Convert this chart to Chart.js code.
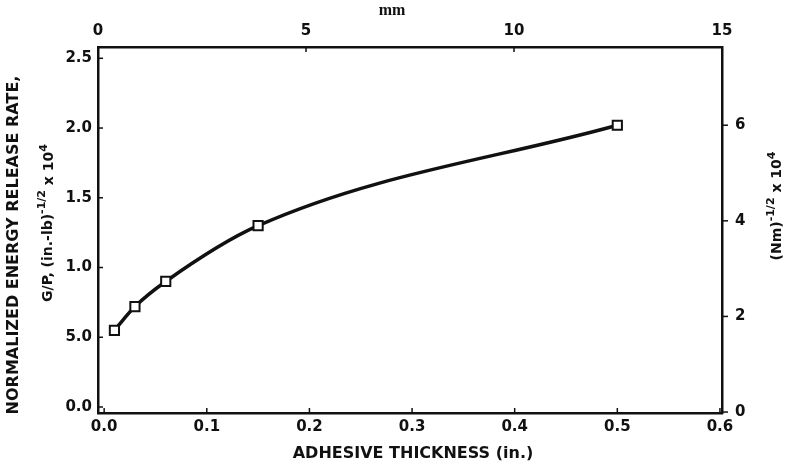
<!DOCTYPE html>
<html><head><meta charset="utf-8">
<script src="https://cdn.jsdelivr.net/npm/chart.js@4.4.1/dist/chart.umd.min.js"></script>
<style>html,body{margin:0;padding:0;background:#fff;} #wrap{width:785px;height:475px;position:relative;}</style>
</head><body><div id="wrap"><canvas id="c" width="785" height="475"></canvas></div>
<script>
// ---- data ----
const thicknessIn = [0.01, 0.03, 0.06, 0.15, 0.50];
const energyRate  = [0.55, 0.72, 0.90, 1.30, 2.02];

const bottomTicks = [0.0, 0.1, 0.2, 0.3, 0.4, 0.5, 0.6];
const bottomTickLabels = ['0.0', '0.1', '0.2', '0.3', '0.4', '0.5', '0.6'];
const topTicks = [0, 5, 10, 15];
const topTickLabels = ['0', '5', '10', '15'];
const leftTicks = [0.0, 0.5, 1.0, 1.5, 2.0, 2.5];
const leftTickLabels = ['0.0', '5.0', '1.0', '1.5', '2.0', '2.5'];
const rightTicks = [0, 2, 4, 6];
const rightTickLabels = ['0', '2', '4', '6'];

const INK = '#111';
const tickFont = {family: 'DejaVu Sans', size: 15, weight: 'bold'};

function fixed(ticks) { return s => { s.ticks = ticks.map(v => ({value: v})); }; }

function drawRich(ctx, segs, cx, cy, rot) {
  ctx.save();
  ctx.translate(cx, cy);
  ctx.rotate(rot);
  ctx.textAlign = 'left';
  ctx.textBaseline = 'alphabetic';
  let total = 0;
  segs.forEach(s => { ctx.font = s.font; s.w = ctx.measureText(s.t).width; total += s.w; });
  let xx = -total / 2;
  segs.forEach(s => { ctx.font = s.font; ctx.fillText(s.t, xx, s.dy || 0); xx += s.w; });
  ctx.restore();
}

const decor = {
  id: 'decor',
  afterDraw(chart) {
    const ctx = chart.ctx;
    const a = chart.chartArea;
    const {x, x2, y, y2} = chart.scales;
    ctx.save();
    ctx.strokeStyle = INK;
    ctx.lineWidth = 1.5;
    const seg = (x1, y1, xb, yb) => { ctx.beginPath(); ctx.moveTo(x1, y1); ctx.lineTo(xb, yb); ctx.stroke(); };
    bottomTicks.forEach(v => { const p = x.getPixelForValue(v); seg(p, a.bottom, p, a.bottom - 5); });
    topTicks.forEach(v => { const p = x2.getPixelForValue(v); seg(p, a.top, p, a.top + 5); });
    leftTicks.forEach(v => { const p = y.getPixelForValue(v); seg(a.left, p, a.left + 5, p); });
    rightTicks.forEach(v => { const p = y2.getPixelForValue(v); seg(a.right, p, a.right + 6, p); });

    ctx.fillStyle = INK;
    const B16 = 'bold 16px "DejaVu Sans"';
    const B14 = 'bold 14px "DejaVu Sans"';
    const S11 = 'bold 11px "DejaVu Sans"';
    // left titles
    drawRich(ctx, [{t: 'NORMALIZED ENERGY RELEASE RATE,', font: B16}], 18, 245, -Math.PI / 2);
    drawRich(ctx, [
      {t: 'G/P, (in.-lb)', font: B14},
      {t: '-1/2', font: S11, dy: -7},
      {t: ' x 10', font: B14, dy: 1},
      {t: '4', font: S11, dy: -5}
    ], 52, 223, -Math.PI / 2);
    // right title
    drawRich(ctx, [
      {t: '(Nm)', font: B14},
      {t: '-1/2', font: S11, dy: -7},
      {t: ' x 10', font: B14},
      {t: '4', font: S11, dy: -6}
    ], 781, 206, -Math.PI / 2);
    // bottom title
    drawRich(ctx, [{t: 'ADHESIVE THICKNESS (in.)', font: B16}], 413, 458, 0);
    // top title
    drawRich(ctx, [{t: 'mm', font: 'bold 16px "Liberation Serif"'}], 392, 15, 0);
    ctx.restore();
  }
};

new Chart(document.getElementById('c'), {
  type: 'line',
  data: {
    datasets: [{
      data: thicknessIn.map((t, i) => ({x: t, y: energyRate[i]})),
      xAxisID: 'x', yAxisID: 'y',
      borderColor: INK, borderWidth: 3.5,
      cubicInterpolationMode: 'monotone',
      pointStyle: 'rect', pointRadius: 6.5,
      pointBackgroundColor: '#fff', pointBorderColor: INK, pointBorderWidth: 2,
      clip: false
    }]
  },
  options: {
    responsive: false, animation: false, devicePixelRatio: 1,
    layout: {padding: 0},
    plugins: {legend: {display: false}, tooltip: {enabled: false}},
    scales: {
      x: {
        type: 'linear', position: 'bottom', min: -0.006, max: 0.602,
        afterBuildTicks: fixed(bottomTicks), afterFit: s => { s.height = 62; },
        grid: {display: false, drawTicks: false},
        border: {display: true, color: INK, width: 2.5},
        ticks: {font: tickFont, color: INK, padding: 5, maxRotation: 0, autoSkip: false,
                callback: (v, i) => bottomTickLabels[i]}
      },
      x2: {
        type: 'linear', position: 'top', min: 0, max: 15,
        afterBuildTicks: fixed(topTicks), afterFit: s => { s.height = 47; },
        grid: {display: false, drawTicks: false},
        border: {display: true, color: INK, width: 2.5},
        ticks: {font: tickFont, color: INK, padding: 7, maxRotation: 0, autoSkip: false,
                callback: (v, i) => topTickLabels[i]}
      },
      y: {
        type: 'linear', position: 'left', min: -0.043, max: 2.581,
        afterBuildTicks: fixed(leftTicks), afterFit: s => { s.width = 98; },
        grid: {display: false, drawTicks: false},
        border: {display: true, color: INK, width: 2.5},
        ticks: {font: tickFont, color: INK, padding: 6, autoSkip: false,
                callback: (v, i) => leftTickLabels[i]}
      },
      y2: {
        type: 'linear', position: 'right', min: -0.02, max: 7.636,
        afterBuildTicks: fixed(rightTicks), afterFit: s => { s.width = 63; },
        grid: {display: false, drawTicks: false},
        border: {display: true, color: INK, width: 2.5},
        ticks: {font: tickFont, color: INK, padding: 13, autoSkip: false,
                callback: (v, i) => rightTickLabels[i]}
      }
    }
  },
  plugins: [decor]
});
</script>
</body></html>
